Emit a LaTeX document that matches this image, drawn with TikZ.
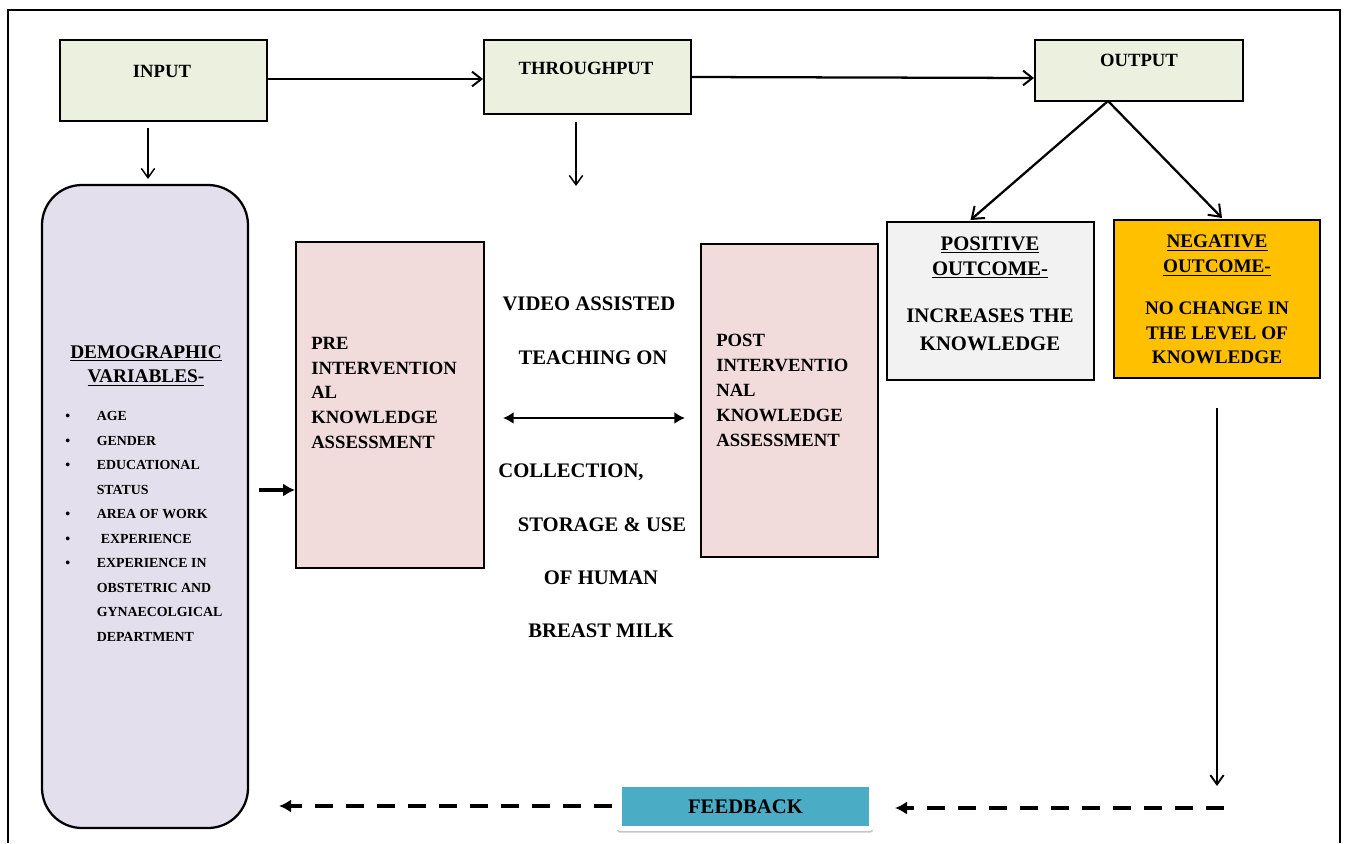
\documentclass[tikz,border=0pt]{standalone}
\usepackage{fontspec}
\setmainfont{Liberation Serif}
\usetikzlibrary{arrows.meta,calc,shadows}
\definecolor{boxgreen}{HTML}{EBF1DE}
\definecolor{boxlav}{HTML}{E4DFEC}
\definecolor{boxpink}{HTML}{F2DCDB}
\definecolor{boxgray}{HTML}{F2F2F2}
\definecolor{boxorange}{HTML}{FFC000}
\definecolor{boxteal}{HTML}{4BACC6}
\tikzset{
  sz/.style args={#1/#2}{minimum width=#1*0.75pt, minimum height=#2*0.75pt},
  box/.style={draw=black, line width=1.5pt, rectangle, inner sep=0pt},
  titletxt/.style={font=\bfseries\fontsize{14}{17}\selectfont, inner sep=0pt, text depth=0pt},
  midtxt/.style={font=\bfseries\fontsize{15.5}{18}\selectfont, inner sep=0pt, text depth=0pt},
  boxtxt/.style={font=\bfseries\fontsize{14}{18.6}\selectfont, inner sep=0pt, align=left, anchor=north west},
  thinarrow/.style={line width=1.1pt, -{Straight Barb[length=7pt,width=10pt,line width=1.1pt]}},
  toparrow/.style={line width=1.7pt, -{Straight Barb[length=7pt,width=11pt,line width=1.5pt]}},
  diagarrow/.style={line width=1.7pt, -{Straight Barb[length=8pt,width=12pt,line width=1.5pt]}},
  dasharrow/.style={line width=2.7pt, dash pattern=on 13.5pt off 9.75pt, -{Latex[length=9pt,width=10pt]}},
}
\begin{document}
\begin{tikzpicture}[x=0.75pt,y=-0.75pt]
\useasboundingbox (0,0) rectangle (1345,843);
% outer frame
\draw[line width=1.3pt] (8,843) -- (8,10) -- (1340,10) -- (1340,843);

% top boxes
\node[box, fill=boxgreen, sz=207/81] (input) at (163.5,80.5) {};
\node[box, fill=boxgreen, sz=207/74] (through) at (587.5,77) {};
\node[box, fill=boxgreen, sz=208/61] (output) at (1139,70.5) {};
\node[titletxt] (inputt) at (162,71) {INPUT};
\node[titletxt] (throught) at (586,68) {THROUGHPUT};
\node[titletxt] (outputt) at (1139,60) {OUTPUT};

\draw[toparrow] ($(input.east)+(0,-1.5)$) -- ($(input.east -| through.west)+(0,-1.5)$);
\draw[toparrow] (through.east) -- ($(through.east -| output.west)+(0,1)$);

\coordinate (inA) at (148,128);
\coordinate (inB) at (148,179);
\draw[thinarrow] (inA) -- (inB);
\coordinate (thA) at (576,122);
\coordinate (thB) at (576,186);
\draw[thinarrow] (thA) -- (thB);

% demographic
\node[box, fill=boxlav, sz=206/643, rounded corners=30pt, line width=1.7pt] (demo) at (145,506.5) {};
\node[font=\bfseries\fontsize{14.5}{18}\selectfont, inner sep=0pt, align=center, anchor=north] (demoh) at (146,345.6) {\underline{DEMOGRAPHIC}\\\underline{VARIABLES-}};
\node[font=\bfseries\fontsize{10.4}{18.4}\selectfont, inner sep=0pt, anchor=north west] (demol) at (65,403.2) {%
\begin{tabular}{@{}l@{\hspace{20pt}}l@{}}
\textbullet & AGE\\
\textbullet & GENDER\\
\textbullet & EDUCATIONAL\\
 & STATUS\\
\textbullet & AREA OF WORK\\
\textbullet & \hspace{3pt}EXPERIENCE\\
\textbullet & EXPERIENCE IN\\
 & OBSTETRIC AND\\
 & GYNAECOLGICAL\\
 & DEPARTMENT
\end{tabular}};

% pre / post
\node[box, fill=boxpink, sz=188/326] (pre) at (390,405) {};
\node[boxtxt] (pret) at (311,336.8) {PRE\\INTERVENTION\\AL\\KNOWLEDGE\\ASSESSMENT};
\node[box, fill=boxpink, sz=177/313] (post) at (789.5,400.5) {};
\node[boxtxt, font=\bfseries\fontsize{14}{18.75}\selectfont] (postt) at (716,333.8) {POST\\INTERVENTIO\\NAL\\KNOWLEDGE\\ASSESSMENT};

\draw[line width=2.6pt, -{Latex[length=9pt,width=10pt]}] ($(demo.east)+(10,-16.5)$) -- ($(pre.west)+(0,85)$);
\draw[line width=2pt, {Latex[length=8pt,width=9pt]}-{Latex[length=8pt,width=9pt]}] ($(pre.east)+(18,13)$) -- ($(post.west)+(-15,17.5)$);

% middle text
\node[midtxt] (m1) at (589,304) {VIDEO ASSISTED};
\node[midtxt] (m2) at (593,358) {TEACHING ON};
\node[midtxt] (m3) at (571,471) {COLLECTION,};
\node[midtxt] (m4) at (602,525) {STORAGE \& USE};
\node[midtxt] (m5) at (601,578) {OF HUMAN};
\node[midtxt] (m6) at (601,631) {BREAST MILK};

% outcomes
\node[box, fill=boxgray, sz=207/158] (pos) at (990.5,301) {};
\node[font=\bfseries\fontsize{15.5}{18.75}\selectfont, inner sep=0pt, align=center, anchor=north] (posh) at (990,236.2) {\underline{POSITIVE}\\\underline{OUTCOME-}};
\node[font=\bfseries\fontsize{15.5}{21}\selectfont, inner sep=0pt, align=center, anchor=north] (posb) at (990,308.2) {INCREASES THE\\KNOWLEDGE};
\node[box, fill=boxorange, sz=206/158] (neg) at (1217,299) {};
\node[font=\bfseries\fontsize{14.4}{18.75}\selectfont, inner sep=0pt, align=center, anchor=north] (negh) at (1217,234.8) {\underline{NEGATIVE}\\\underline{OUTCOME-}};
\node[font=\bfseries\fontsize{14.4}{18.4}\selectfont, inner sep=0pt, align=center, anchor=north] (negb) at (1217,301.8) {NO CHANGE IN\\THE LEVEL OF\\KNOWLEDGE};

\coordinate (op) at (1108,101);
\draw[diagarrow] (op) -- ($(pos.north)+(-20,-1)$);
\draw[diagarrow] (op) -- ($(neg.north)+(5,-1)$);

\draw[line width=1.4pt, -{Straight Barb[length=7pt,width=10pt,line width=1.4pt]}] ($(neg.south)+(0,29)$) -- ($(neg.south)+(0,407)$);

% feedback
\node[draw=white, fill=white, line width=0pt, rounded corners=2pt, sz=256/47, drop shadow={opacity=0.45, shadow xshift=0pt, shadow yshift=-2pt}] (fbo) at (745,806.5) {};
\node[rectangle, fill=boxteal, sz=247/39, inner sep=0pt, font=\bfseries\fontsize{15.5}{18}\selectfont] (fb) at (745.5,806.5) {FEEDBACK};

\coordinate (dr) at (1224,808);
\draw[dasharrow] (dr) -- ($(fbo.east)+(22,1.5)$);
\draw[dasharrow] ($(fbo.west)+(-5,-0.5)$) -- ($(demo.east |- fbo)+(30,-0.5)$);
\end{tikzpicture}
\end{document}
